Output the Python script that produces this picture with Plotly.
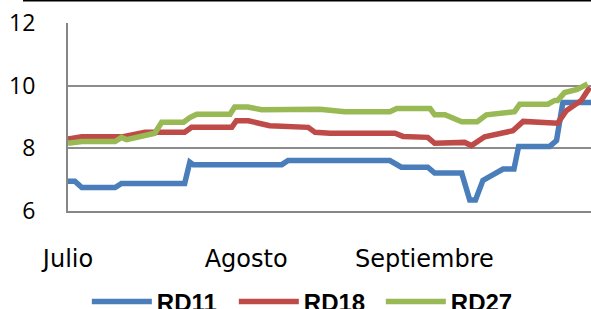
import plotly.graph_objects as go

# x values: calendar days since 1 July
rd11_x = [0, 1.2, 2.4, 8.2, 9.3, 20.3, 21.2, 21.8, 37.2, 38.3, 56.0, 58.0, 62.6, 63.8,
          68.5, 69.9, 70.9, 72.2, 75.7, 77.6, 78.4, 83.8, 85.0, 86.1, 91]
rd11_y = [6.95, 6.95, 6.75, 6.75, 6.88, 6.88, 7.56, 7.48, 7.48, 7.61, 7.61, 7.40, 7.40, 7.21,
          7.21, 6.35, 6.35, 6.98, 7.34, 7.34, 8.06, 8.06, 8.25, 9.46, 9.46]

rd18_x = [0, 2.4, 9.6, 13.4, 20.3, 21.5, 28.5, 29.3, 31.4, 35.1, 41.8, 43.0, 45.6, 56.9,
          58.3, 62.6, 63.8, 69.0, 70.2, 72.5, 77.4, 79.2, 85.2, 86.7, 89.3, 90.8]
rd18_y = [8.30, 8.37, 8.37, 8.51, 8.51, 8.67, 8.67, 8.88, 8.88, 8.72, 8.67, 8.51, 8.48, 8.48,
          8.38, 8.35, 8.16, 8.19, 8.09, 8.37, 8.56, 8.86, 8.80, 9.20, 9.53, 9.95]

rd27_x = [0, 2.4, 8.2, 9.3, 10.2, 15.1, 16.3, 20.1, 21.2, 22.4, 28.2, 29.0, 31.3, 33.7,
          43.8, 48.2, 56.0, 57.2, 63.0, 63.8, 65.6, 67.3, 68.5, 71.2, 72.8, 77.7, 78.6,
          83.5, 84.7, 85.2, 86.4, 88.6, 90.4]
rd27_y = [8.16, 8.22, 8.22, 8.35, 8.28, 8.48, 8.83, 8.83, 8.98, 9.09, 9.09, 9.32, 9.32, 9.23,
          9.25, 9.17, 9.17, 9.27, 9.27, 9.07, 9.07, 8.93, 8.85, 8.85, 9.07, 9.17, 9.41,
          9.41, 9.53, 9.53, 9.78, 9.88, 10.06]

month_ticks = [0, 31, 62]
month_labels = ["Julio", "Agosto", "Septiembre"]
y_ticks = [6, 8, 10, 12]

series = [
    ("RD11", rd11_x, rd11_y, "#4A7EBB"),
    ("RD18", rd18_x, rd18_y, "#BE4B48"),
    ("RD27", rd27_x, rd27_y, "#98B954"),
]

fig = go.Figure()
for name, xs, ys, color in series:
    fig.add_trace(go.Scatter(x=xs, y=ys, name=name, mode="lines",
                             line=dict(color=color, width=5.5)))

fig.update_layout(
    width=591, height=309,
    margin=dict(l=68, r=0, t=23, b=98, autoexpand=False),
    paper_bgcolor="white", plot_bgcolor="white",
    showlegend=True,
    legend=dict(orientation="h", x=0.036, xanchor="left", y=-0.484, yanchor="middle",
                font=dict(family="Liberation Sans", size=24, color="black", weight="bold"),
                itemwidth=60, entrywidth=72, entrywidthmode="pixels",
                bgcolor="rgba(0,0,0,0)", traceorder="normal"),
    xaxis=dict(range=[0, 91], tickmode="array", tickvals=month_ticks, ticktext=month_labels,
               showgrid=False, zeroline=False, showline=True, linecolor="#868686", linewidth=2,
               ticks="", ticklabelstandoff=25,
               tickfont=dict(family="DejaVu Sans", size=24, color="black")),
    yaxis=dict(range=[6, 12], tickmode="array", tickvals=y_ticks,
               showgrid=True, gridcolor="#8C8C8C", gridwidth=2, zeroline=False,
               showline=True, linecolor="#868686", linewidth=2, ticks="",
               ticklabelstandoff=26,
               tickfont=dict(family="Open Sans", size=23, color="black")),
    shapes=[dict(type="line", xref="paper", yref="paper", x0=-0.086, x1=1.0,
                 y0=1.12, y1=1.12, line=dict(color="black", width=2))],
)

fig.write_html("out.html", config={"displayModeBar": False},
               post_script="document.body.style.margin='0px';document.body.style.overflow='hidden';")
